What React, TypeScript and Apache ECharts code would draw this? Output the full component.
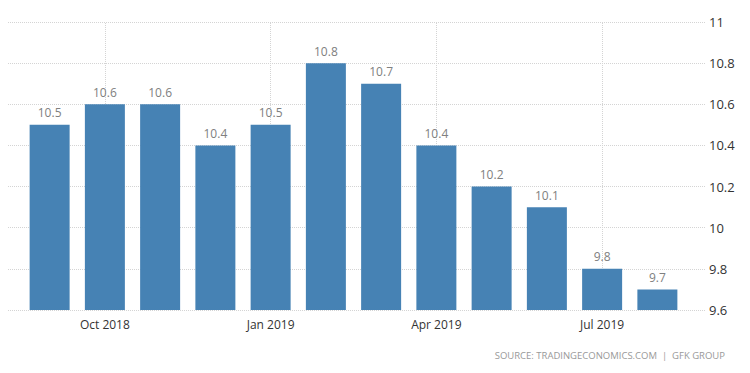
import React, { useEffect, useRef } from "react";
import * as echarts from "echarts";

const categories = [
  "Sep 2018", "Oct 2018", "Nov 2018", "Dec 2018", "Jan 2019", "Feb 2019",
  "Mar 2019", "Apr 2019", "May 2019", "Jun 2019", "Jul 2019", "Aug 2019",
];
const values = [10.5, 10.6, 10.6, 10.4, 10.5, 10.8, 10.7, 10.4, 10.2, 10.1, 9.8, 9.7];
const labeledMonths = ["Oct 2018", "Jan 2019", "Apr 2019", "Jul 2019"];
const yMin = 9.6;
const yMax = 11;
const yStep = 0.2;
const sourceText = "SOURCE: TRADINGECONOMICS.COM  |  GFK GROUP";

export default function App() {
  const ref = useRef<HTMLDivElement>(null);
  useEffect(() => {
    if (!ref.current) return;
    const chart = echarts.init(ref.current, undefined, { renderer: "svg" });
    const font = "'Open Sans', 'Noto Sans', sans-serif";
    const gridLine = { color: "#d4d4d4", type: "dotted" as const, width: 1 };
    chart.setOption({
      animation: false,
      backgroundColor: "#ffffff",
      grid: [
        { left: 0, right: 44, top: 22, bottom: 63 },
        { left: 22, right: 65, top: 22, bottom: 63 },
      ],
      xAxis: [
        { gridIndex: 0, type: "value", min: 0, max: 1, show: false },
        {
          gridIndex: 1,
          type: "category",
          data: categories,
          axisLine: { show: false },
          axisTick: { show: false },
          splitLine: { show: false },
          axisLabel: {
            interval: (i: number, v: string) => labeledMonths.includes(v),
            color: "#333",
            fontSize: 12,
            fontFamily: font,
            margin: 8,
          },
        },
      ],
      yAxis: [
        {
          gridIndex: 0,
          type: "value",
          position: "right",
          min: yMin,
          max: yMax,
          interval: yStep,
          axisLine: { show: false },
          axisTick: { show: false },
          splitLine: { show: true, lineStyle: gridLine },
          axisLabel: {
            color: "#333",
            fontSize: 13,
            fontFamily: font,
            margin: 3,
            formatter: (v: number) => String(Math.round(v * 10) / 10),
          },
        },
        {
          gridIndex: 1,
          type: "value",
          min: yMin,
          max: yMax,
          interval: yStep,
          show: false,
          splitLine: { show: false },
        },
      ],
      series: [
        {
          type: "bar",
          xAxisIndex: 1,
          yAxisIndex: 1,
          data: values,
          barWidth: 40,
          z: 3,
          itemStyle: { color: "#4682b4" },
          label: {
            show: true,
            position: "top",
            distance: 6,
            color: "#808080",
            fontSize: 12,
            fontFamily: font,
          },
          markLine: {
            silent: true,
            symbol: "none",
            z: 1,
            label: { show: false },
            lineStyle: gridLine,
            data: labeledMonths.map((m) => ({ xAxis: m })),
          },
        },
      ],
      graphic: [
        {
          type: "text",
          right: 25,
          top: 350,
          style: {
            text: sourceText,
            fill: "#999",
            fontSize: 9.5,
            fontFamily: font,
          },
        },
      ],
    });
    return () => chart.dispose();
  }, []);
  return <div ref={ref} style={{ width: 750, height: 373, margin: -8 }} />;
}
